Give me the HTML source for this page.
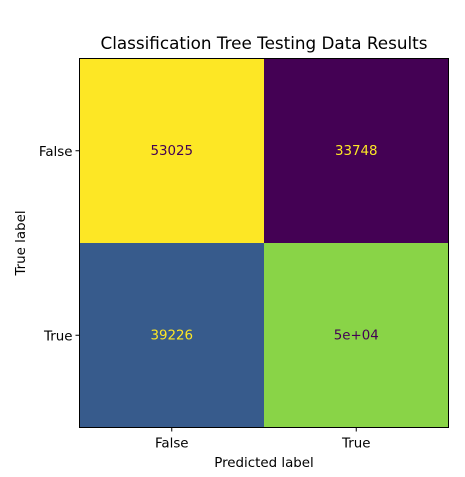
<!DOCTYPE html>
<html><head><meta charset="utf-8"><style>body{margin:0;background:#fff}svg{display:block;font-family:"DejaVu Sans","Liberation Sans",sans-serif}</style></head>
<body>
<svg id="chart" width="465" height="477" viewBox="0 0 465 477">
<text x="264" y="49" font-size="16.8" text-anchor="middle">Classification Tree Testing Data Results</text>
<g id="cells"></g>
<rect x="79.5" y="58.5" width="369" height="369" fill="none" stroke="#000" stroke-width="1"/>
<g id="ticks" font-size="13.4"></g>
<text x="264" y="467" font-size="13.4" text-anchor="middle">Predicted label</text>
<text transform="translate(25,243) rotate(-90)" font-size="13.4" text-anchor="middle">True label</text>
</svg>
<script>
const categories = ["False", "True"];
const values = [[53025, 33748], [39226, 49600]];

const x0 = 79.5, y0 = 58.5, size = 369, n = categories.length, cw = size / n;
const vir = [[68,1,84],[72,36,117],[65,68,135],[53,95,141],[42,120,142],[33,145,140],[34,168,132],[68,191,112],[122,209,81],[189,223,38],[253,231,37]];
function viridis(t){t=Math.max(0,Math.min(1,t));const p=t*10,i=Math.min(9,Math.floor(p)),f=p-i;
 const c=vir[i].map((v,k)=>Math.round(v+(vir[i+1][k]-v)*f));return `rgb(${c})`;}
function fmt(v){let g=Number(v.toPrecision(2)).toExponential(1).replace(/\.0e/,'e');
 let m=g.match(/^(-?[\d.]+)e([+-])(\d+)$/);let s=m?m[1]+'e'+m[2]+m[3].padStart(2,'0'):g;
 const d=String(v);return d.length<s.length?d:s;}
const flat=values.flat(),mn=Math.min(...flat),mx=Math.max(...flat),thr=(mn+mx)/2;
const cx=i=>x0+cw*(i+0.5), cy=i=>y0+cw*(i+0.5);
const ns="http://www.w3.org/2000/svg",g=document.getElementById('cells'),tg=document.getElementById('ticks');
values.forEach((row,r)=>row.forEach((v,c)=>{
 const rc=document.createElementNS(ns,'rect');
 
 
 rc.setAttribute('x',x0+cw*c);rc.setAttribute('y',y0+cw*r);rc.setAttribute('width',cw+0.5);rc.setAttribute('height',cw+0.5);
 rc.setAttribute('fill',viridis((v-mn)/(mx-mn)));g.appendChild(rc);
 const t=document.createElementNS(ns,'text');
 
 
 t.setAttribute('x',cx(c));t.setAttribute('y',cy(r)+4);t.setAttribute('text-anchor','middle');t.setAttribute('font-size','13.4');
 t.setAttribute('fill',v<thr?'#fde725':'#440154');t.textContent=fmt(v);g.appendChild(t);
}));
categories.forEach((cat,i)=>{
 const l=document.createElementNS(ns,'line');
 
 
 l.setAttribute('x1',cx(i));l.setAttribute('x2',cx(i));l.setAttribute('y1',y0+size);l.setAttribute('y2',y0+size+4);l.setAttribute('stroke','#000');tg.appendChild(l);
 const t=document.createElementNS(ns,'text');
 
 
 t.setAttribute('x',cx(i));t.setAttribute('y',y0+size+20);t.setAttribute('text-anchor','middle');t.textContent=cat;tg.appendChild(t);
 const l2=document.createElementNS(ns,'line');
 
 
 l2.setAttribute('x1',x0-4);l2.setAttribute('x2',x0);l2.setAttribute('y1',cy(i));l2.setAttribute('y2',cy(i));l2.setAttribute('stroke','#000');tg.appendChild(l2);
 const t2=document.createElementNS(ns,'text');
 
 
 t2.setAttribute('x',x0-7);t2.setAttribute('y',cy(i)+5);t2.setAttribute('text-anchor','end');t2.textContent=cat;tg.appendChild(t2);
});
</script>
</body></html>
